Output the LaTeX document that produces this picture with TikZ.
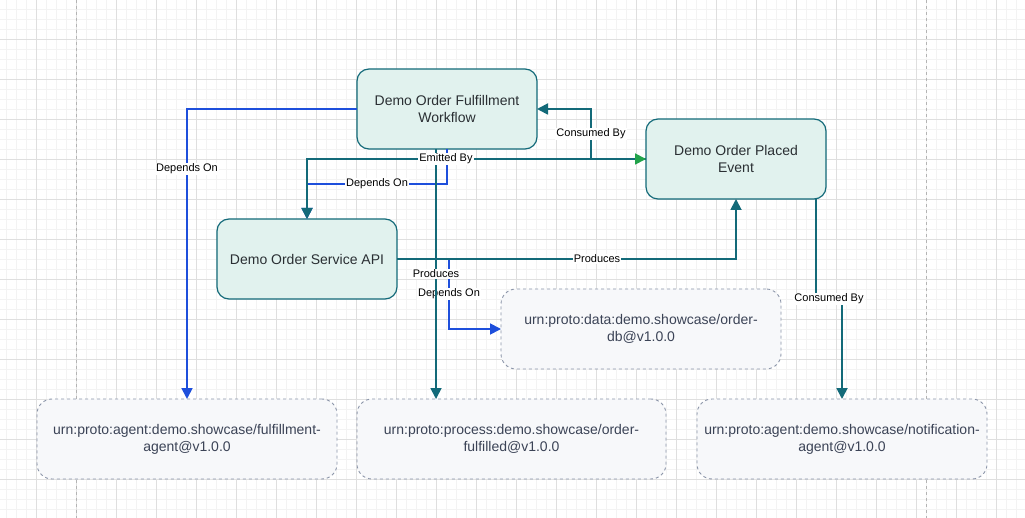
\documentclass[tikz,border=0pt]{standalone}
\usepackage{fontspec}
\setmainfont{Liberation Sans}
\usetikzlibrary{arrows.meta,calc}
\definecolor{gridminor}{HTML}{F3F3F3}
\definecolor{gridmajor}{HTML}{DFDFDF}
\definecolor{pagebrk}{HTML}{B4B4B4}
\definecolor{tealfill}{HTML}{E1F2EE}
\definecolor{tealline}{HTML}{136A79}
\definecolor{edgeteal}{HTML}{136A79}
\definecolor{edgeblue}{HTML}{1E4FDC}
\definecolor{edgegreen}{HTML}{22A34A}
\definecolor{urnfill}{HTML}{F7F8FA}
\definecolor{urnline}{HTML}{8A94A8}
\definecolor{urntext}{HTML}{3B4356}
\definecolor{nodetext}{HTML}{2A2F33}
\tikzset{
  entity/.style={draw=tealline, fill=tealfill, line width=1.2pt, rounded corners=12pt,
    minimum width=180pt, minimum height=80pt, align=center, text=nodetext,
    font=\fontsize{14}{16.8}\selectfont, inner sep=0pt, outer sep=0pt},
  urnbox/.style={draw=urnline, fill=urnfill, line width=0.9pt, dash pattern=on 3pt off 3pt,
    rounded corners=15pt, minimum height=80pt, align=center, text=urntext,
    font=\fontsize{14}{16.8}\selectfont, inner sep=0pt, outer sep=0pt},
  lab/.style={fill=white, text=black, inner sep=1pt, font=\fontsize{11}{13}\selectfont},
  tealedge/.style={draw=edgeteal, line width=1.8pt, -{Triangle[length=11pt,width=11pt]}},
  blueedge/.style={draw=edgeblue, line width=1.8pt, -{Triangle[length=11pt,width=11pt]}},
}
\begin{document}
\begin{tikzpicture}[x=1pt,y=-1pt]
\useasboundingbox (0,0) rectangle (1025,518);
\fill[white] (0,0) rectangle (1025,518);
% grid
\foreach \k in {0,...,101} \draw[gridminor, line width=0.7pt] ({6.7+10*\k},0) -- ({6.7+10*\k},518);
\foreach \k in {0,...,51} \draw[gridminor, line width=0.7pt] (0,{9.3+10*\k}) -- (1025,{9.3+10*\k});
\foreach \k in {0,...,24} \draw[gridmajor, line width=0.8pt] ({36.7+40*\k},0) -- ({36.7+40*\k},518);
\foreach \k in {0,...,12} \draw[gridmajor, line width=0.8pt] (0,{39.3+40*\k}) -- (1025,{39.3+40*\k});
\draw[pagebrk, line width=0.8pt, dash pattern=on 3pt off 3pt] (76.7,0) -- (76.7,518);
\draw[pagebrk, line width=0.8pt, dash pattern=on 3pt off 3pt] (926.7,0) -- (926.7,518);

% nodes
\node[entity] (wf) at (447,109) {Demo Order Fulfillment\\Workflow};
\node[entity] (ev) at (736,159) {Demo Order Placed\\Event};
\node[entity] (api) at (307,259) {Demo Order Service API};
\node[urnbox, minimum width=280pt] (db) at (641,329) {urn:proto:data:demo.showcase/order-\\db@v1.0.0};
\node[urnbox, minimum width=300pt] (fa) at (187,439) {urn:proto:agent:demo.showcase/fulfillment-\\agent@v1.0.0};
\node[urnbox, minimum width=309pt] (of) at (511.5,439) {urn:proto:process:demo.showcase/order-\\fulfilled@v1.0.0};
\node[urnbox, minimum width=290pt] (na) at (842,439) {urn:proto:agent:demo.showcase/notification-\\agent@v1.0.0};

% blue edges
\draw[blueedge] (wf.west) -| node[lab, pos=0.603]{Depends On} (fa.north);
\draw[blueedge] (wf.south) -- ++(0,35) -- node[lab]{Depends On} ($(api.north)+(0,-35)$) -- (api.north);
\draw[blueedge] (api.east) -- ++(52,0) |- node[lab, pos=0.25]{Depends On} (db.west);

% teal edges
\coordinate (wfp) at ($(wf.south)+(-11,0)$);
\draw[tealedge] (wfp) -- node[lab]{Produces} (wfp |- of.north);
\draw[tealedge] (api.east) -| node[lab, pos=0.295]{Produces} (ev.south);
\draw[tealedge] (ev.west) -- ++(-55,0) |- node[lab, pos=0.25]{Consumed By} (wf.east);
\draw[tealedge, {Triangle[length=11pt,width=11pt,color=edgegreen]}-{Triangle[length=11pt,width=11pt]}]
  (ev.west) -| node[lab, pos=0.295]{Emitted By} (api.north);
\coordinate (evo) at ($(ev.south east)+(-10,0)$);
\draw[tealedge] (evo) -- ++(0,100) -| node[lab, pos=0.25]{Consumed By} (na.north);
\end{tikzpicture}
\end{document}
